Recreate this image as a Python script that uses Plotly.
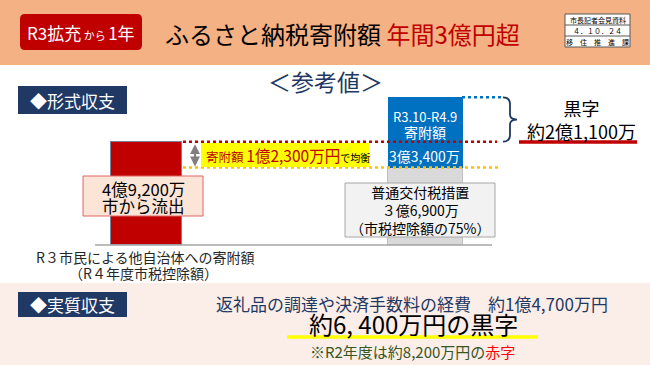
import plotly.graph_objects as go

# ---- data (万円) ----
categories = ["R3市民による他自治体への寄附額", "R3.10-R4.9寄附額"]
outflow = [49200]          # R3市民による他自治体への寄附額（R4年度市税控除額）
grant = [36900]            # 普通交付税措置（市税控除額の75%）
donation = [33400]         # R3.10-R4.9 寄附額
cost = 14700               # 返礼品の調達や決済手数料の経費
r2_deficit = 8200          # R2年度 赤字
grant_rate = 75

total_in = grant[0] + donation[0]
balance = outflow[0] - grant[0]
surplus = total_in - outflow[0]
real_surplus = surplus - cost


def oku(v):
    o, m = divmod(v, 10000)
    return f"{o}億{m:,}万" if o else f"{m:,}万"


FONT = "Noto Sans CJK JP"
NAVY = "#1F3864"
RED = "#C00000"
BLUE = "#0070C0"

# pixel frame
W, H = 650, 365
BASE = 245
PX = 0.0021  # px per 万
y2_range = [-(H - BASE) / PX, BASE / PX]

fig = go.Figure()

fig.add_trace(go.Bar(x=[146.5], y=outflow, width=[71], marker=dict(color=RED, line=dict(color="#7F7FA0", width=1)),
                     xaxis="x", yaxis="y2", name=categories[0], hoverinfo="skip"))
fig.add_trace(go.Bar(x=[425], y=grant, width=[75], marker=dict(color="#D9D9D9", line=dict(color="#BFBFBF", width=1)),
                     xaxis="x", yaxis="y2", name="普通交付税措置", hoverinfo="skip"))
fig.add_trace(go.Bar(x=[425], y=donation, width=[75], marker=dict(color=BLUE, line=dict(color=BLUE, width=0)),
                     xaxis="x", yaxis="y2", name=categories[1], hoverinfo="skip"))

shapes = []
ann = []


def rect(x0, y0, x1, y1, fill, line=None, lw=0, layer="above", yref="y"):
    shapes.append(dict(type="rect", xref="x", yref=yref, x0=x0, y0=y0, x1=x1, y1=y1, fillcolor=fill,
                       line=dict(color=line or fill, width=lw), layer=layer))


def hline(x0, x1, y, color, width=2, dash="solid", yref="y", layer="above"):
    shapes.append(dict(type="line", xref="x", yref=yref, x0=x0, x1=x1, y0=y, y1=y,
                       line=dict(color=color, width=width, dash=dash), layer=layer))


def text(x, y, t, size, color="black", xanchor="center", yanchor="middle"):
    ann.append(dict(x=x, y=y, xref="x", yref="y", text=t, showarrow=False, xanchor=xanchor, yanchor=yanchor,
                    font=dict(family=FONT, size=size, color=color)))


# header
rect(0, 0, W, 65, "#F4B183", layer="below")
shapes.append(dict(type="path", xref="x", yref="y",
                   path="M 25 14 L 137 14 Q 142 14 142 19 L 142 45 Q 142 50 137 50 L 25 50 Q 20 50 20 45 L 20 19 Q 20 14 25 14 Z",
                   fillcolor=RED, line=dict(width=0), layer="above"))
text(81, 32, "<span style='font-size:17px'>R3拡充</span> から <span style='font-size:17px'>1年</span>", 11, "white")
text(163, 33, "ふるさと納税寄附額 <span style='color:#C00000'>年間3億円超</span>", 24, "black", xanchor="left")
# stamp
rect(565, 14, 630, 47, "white", "#595959", 1)
hline(565, 630, 25, "#595959", 1)
hline(565, 630, 36, "#595959", 1)
text(597.5, 19.5, "市長記者会見資料", 7)
text(597.5, 30.5, "４．１０．２４", 7)
text(597.5, 41.5, "移　住　推　進　課", 7)

# bottom band
rect(0, 283, W, H, "#FBEEE8", layer="below")

# section boxes
rect(18, 86, 127, 114, NAVY)
text(72.5, 100, "◆形式収支", 17, "white")
rect(18, 292, 127, 317, NAVY)
text(72.5, 304.5, "◆実質収支", 17, "white")
text(325, 81, "＜参考値＞", 23, NAVY)

# baseline
hline(95, 492, BASE, "#A6A6A6", 1.5, layer="above")

# dotted reference lines (value space)
hline(183, 497, outflow[0], RED, 2.5, "dot", yref="y2")
hline(183, 498, grant[0], "#FFC000", 2.5, "dot", yref="y2")
hline(462, 503, total_in, BLUE, 2.5, "dot", yref="y2")

# brace
top_px = BASE - total_in * PX
bot_px = BASE - outflow[0] * PX
mid = (top_px + bot_px) / 2
bx = 510
shapes.append(dict(type="path", xref="x", yref="y", layer="above",
                   path=(f"M 503 {top_px} Q {bx} {top_px} {bx} {top_px+7} L {bx} {mid-5} "
                         f"Q {bx} {mid} {bx+7} {mid} Q {bx} {mid} {bx} {mid+5} L {bx} {bot_px-7} "
                         f"Q {bx} {bot_px} 503 {bot_px}"),
                   line=dict(color=NAVY, width=1.8)))
text(581, 119.5, "黒字<br>約" + oku(surplus), 18)
hline(519, 637, 142, RED, 3.5)

# blue bar labels
text(424.5, 116, "R3.10-R4.9", 13, "white")
text(424.5, 132, "寄附額", 14, "white")
text(424.5, 156, oku(donation[0]), 14, "white")

# balance arrow & label
bal_top = BASE - outflow[0] * PX
bal_bot = BASE - grant[0] * PX
ann.append(dict(x=195, y=bal_bot - 1, ax=195, ay=bal_top + 1, xref="x", yref="y", axref="x", ayref="y",
                text="", showarrow=True, arrowhead=2, arrowside="end+start", arrowwidth=2.2,
                arrowsize=0.9, arrowcolor="#7F7F7F"))
rect(201, 143, 369, 167, "#FFFF00")
text(204, 155, f"<span style='color:#C00000'>寄附額 <span style='font-size:15.5px'>{oku(balance)}円</span></span>"
     "<span style='font-size:10px'>で均衡</span>", 12.5, xanchor="left")

# outflow label box
rect(83, 176, 203, 216, "#FCE4D6", "#E06666", 1)
text(143, 189, oku(outflow[0]), 16.5)
text(143, 206, "市から流出", 16.5)

# grant label box
rect(345, 183, 495, 237, "#F2F2F2", "#A6A6A6", 1)
text(420, 210, "普通交付税措置<br>" + oku(grant[0]).replace("3", "３", 1)
     + f"<br>（市税控除額の{grant_rate}%）", 14)

# category labels
text(145, 257, "R３市民による他自治体への寄附額", 14, "#262626")
text(143, 273, "（R４年度市税控除額）", 14, "#262626")

# bottom texts
text(412, 303, f"返礼品の調達や決済手数料の経費　約{oku(cost)}円", 17, NAVY)
rs = f"{real_surplus:,}".replace(",", ", ")
text(413, 323, f"約{rs}万円の黒字", 24, "black")
hline(287, 538, 337, "#FFFF00", 3.5)
text(412, 351, f"※R2年度は約{r2_deficit:,}万円の<span style='color:#FF0000'>赤字</span>", 15, "#375623")

fig.update_layout(
    width=W, height=H, autosize=False,
    margin=dict(l=0, r=0, t=0, b=0),
    paper_bgcolor="white", plot_bgcolor="white",
    showlegend=False, barmode="stack", bargap=0,
    xaxis=dict(range=[0, W], visible=False, fixedrange=True),
    yaxis=dict(range=[H, 0], visible=False, fixedrange=True),
    yaxis2=dict(range=y2_range, visible=False, overlaying="y", fixedrange=True),
    shapes=shapes, annotations=ann,
    font=dict(family=FONT),
)

fig.write_html("out.html", config={"displayModeBar": False},
               post_script="document.body.style.margin='0';document.body.style.overflow='hidden';")
